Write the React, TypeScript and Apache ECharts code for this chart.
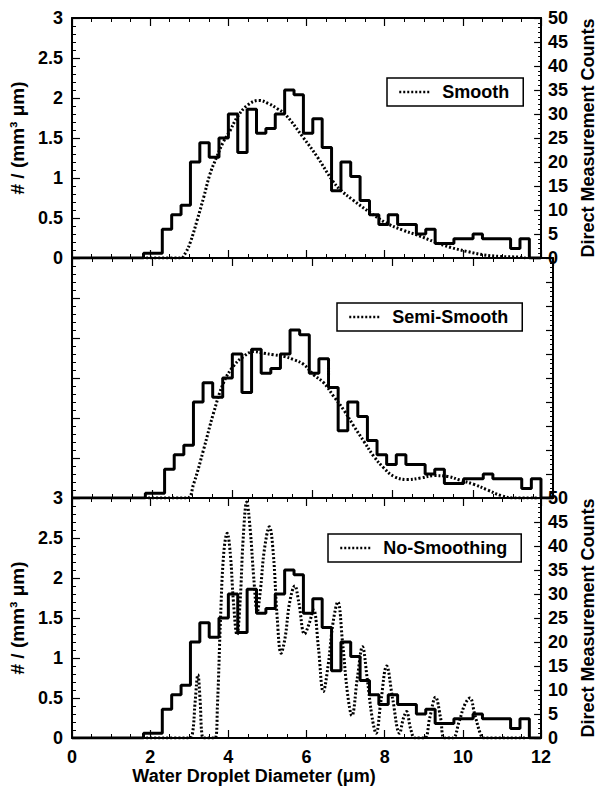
import React, { useEffect, useRef } from 'react';
import * as echarts from 'echarts';

// Histogram bin edges (µm) and direct measurement counts per bin
const binEdges = [
  1.83, 2.07, 2.31, 2.55, 2.79, 3.03, 3.27, 3.51, 3.76, 4.0, 4.24, 4.48, 4.72, 4.96,
  5.2, 5.44, 5.68, 5.92, 6.16, 6.4, 6.64, 6.88, 7.13, 7.37, 7.61, 7.85, 8.09, 8.33,
  8.57, 8.81, 9.05, 9.29, 9.53, 9.77, 10.01, 10.26, 10.5, 10.74, 10.98, 11.22, 11.46, 11.7,
];
const histCounts = [
  1, 1, 6, 9, 11, 20, 24, 21, 25, 30, 22, 31, 26, 27, 30, 35, 34, 26, 29, 23, 14, 20, 17,
  12, 9, 7, 9, 7, 7, 5, 6, 3, 3, 4, 4, 5, 4, 4, 4, 2, 4,
];

// "Smooth" inversion
const smoothX = [
  1.9, 2.78, 2.91, 3.03, 3.2, 3.37, 3.53, 3.7, 3.87, 4.03, 4.24, 4.49, 4.78, 5.03, 5.24,
  5.45, 5.91, 6.28, 6.66, 6.87, 7.2, 7.62, 8.03, 8.45, 8.87, 9.28, 9.7, 10.12, 10.53,
  10.95, 11.45, 11.6,
];
const smoothY = [
  0, 0, 0.07, 0.2, 0.47, 0.76, 1.05, 1.26, 1.45, 1.58, 1.77, 1.91, 1.97, 1.93, 1.87,
  1.8, 1.51, 1.26, 0.97, 0.85, 0.72, 0.57, 0.44, 0.35, 0.28, 0.2, 0.13, 0.08, 0.04,
  0.02, 0.01, 0,
];

// "Semi-Smooth" inversion
const semiX = [
  1.9, 2.87, 3.03, 3.28, 3.53, 3.78, 4.03, 4.28, 4.53, 4.78, 5.03, 5.28, 5.53, 5.78,
  6.03, 6.28, 6.53, 6.78, 7.03, 7.28, 7.53, 7.78, 8.03, 8.37, 8.7, 9.03, 9.37, 9.7,
  10.03, 10.37, 10.7, 11.03, 11.6,
];
const semiY = [
  0, 0, 0.17, 0.6, 1.06, 1.44, 1.65, 1.77, 1.83, 1.81, 1.79, 1.77, 1.73, 1.67, 1.54,
  1.44, 1.27, 1.1, 0.9, 0.71, 0.52, 0.375, 0.27, 0.23, 0.25, 0.28, 0.27, 0.22, 0.17,
  0.1, 0.03, 0, 0,
];

// "No-Smoothing" inversion
const noSmoothX = [
  1.9, 3.0, 3.08, 3.15, 3.22, 3.28, 3.33, 3.4, 3.66, 3.72,
  3.8, 3.88, 3.97, 4.05, 4.13, 4.22, 4.3, 4.38, 4.47, 4.56,
  4.65, 4.74, 4.82, 4.92, 5.05, 5.15, 5.25, 5.35, 5.45, 5.57,
  5.7, 5.8, 5.95, 6.06, 6.18, 6.3, 6.43, 6.55, 6.68, 6.8,
  6.92, 7.05, 7.16, 7.3, 7.43, 7.55, 7.68, 7.78, 7.9, 8.05,
  8.2, 8.38, 8.48, 8.56, 8.66, 8.78, 9.02, 9.15, 9.3, 9.43,
  9.53, 9.74, 9.9, 10.05, 10.18, 10.3, 10.45, 10.53, 11.6,
];
const noSmoothY = [
  0, 0, 0.05, 0.45, 0.79, 0.45, 0.02, 0, 0, 0.4,
  1.5, 2.3, 2.56, 2.3, 1.7, 1.29, 1.7, 2.5, 2.95, 2.6,
  2.0, 1.58, 1.85, 2.35, 2.64, 2.3, 1.5, 1.06, 1.25, 1.7,
  1.9, 1.7, 1.3, 1.42, 1.6, 1.15, 0.58, 0.9, 1.45, 1.7,
  1.2, 0.55, 0.28, 0.75, 1.14, 0.75, 0.25, 0.06, 0.45, 0.9,
  0.5, 0.06, 0.25, 0.33, 0.12, 0, 0, 0.25, 0.51, 0.25,
  0, 0, 0.2, 0.42, 0.5, 0.3, 0.05, 0, 0,
];

const legendNames = ['Smooth', 'Semi-Smooth', 'No-Smoothing'];
const leftAxisName = '# / (mm³ μm)';
const rightAxisName = 'Direct Measurement Counts';
const xAxisName = 'Water Droplet Diameter (μm)';

const FONT = '"Liberation Sans", Arial, Helvetica, sans-serif';

function histPoints() {
  const pts: number[][] = [[0, 0]];
  for (let i = 0; i < histCounts.length; i++) pts.push([binEdges[i], histCounts[i]]);
  pts.push([binEdges[binEdges.length - 1], histCounts[histCounts.length - 1]]);
  pts.push([binEdges[binEdges.length - 1], 0]);
  pts.push([12, 0]);
  return pts;
}

function zip(xs: number[], ys: number[]) {
  return xs.map((x, i) => [x, ys[i]]);
}

export default function App() {
  const ref = useRef<HTMLDivElement>(null);
  useEffect(() => {
    if (!ref.current) return;
    const chart = echarts.init(ref.current, undefined, { renderer: 'svg' });
    const tops = [18, 258, 498];
    const labelStyle = { color: '#000', fontFamily: FONT, fontWeight: 'bold' as const, fontSize: 18 };
    const axisLine = { show: true, onZero: false, lineStyle: { color: '#000', width: 2 } };

    const xAxes: any[] = [];
    const yAxes: any[] = [];
    tops.forEach((_, g) => {
      const isBottom = g === 2;
      const base = {
        type: 'value', gridIndex: g, min: 0, max: 12, interval: 2,
        axisLine,
        axisTick: { show: true, inside: true, length: 8, lineStyle: { color: '#000', width: 1.2 } },
        minorTick: { show: true, splitNumber: 4, length: 4, lineStyle: { color: '#000', width: 1 } },
        splitLine: { show: false },
        minorSplitLine: { show: false },
      };
      xAxes.push({
        ...base,
        position: 'bottom',
        axisLabel: { show: isBottom, margin: 10, ...labelStyle },
        name: isBottom ? xAxisName : '',
        nameLocation: 'middle',
        nameGap: 29,
        nameTextStyle: { ...labelStyle, padding: [0, 105, 0, 0] },
      });
      xAxes.push({ ...base, position: 'top', axisLabel: { show: false } });
      const showLabels = g !== 1;
      yAxes.push({
        type: 'value', gridIndex: g, min: 0, max: 3, interval: 0.5, position: 'left',
        axisLine,
        axisTick: { show: true, inside: true, length: 8, lineStyle: { color: '#000', width: 1.2 } },
        minorTick: { show: true, splitNumber: 5, length: 4, lineStyle: { color: '#000', width: 1 } },
        splitLine: { show: false },
        axisLabel: { show: showLabels, margin: 9, ...labelStyle },
        name: showLabels ? leftAxisName : '',
        nameLocation: 'middle',
        nameRotate: 90,
        nameGap: 42,
        nameTextStyle: { ...labelStyle, fontSize: 19 },
      });
      yAxes.push({
        type: 'value', gridIndex: g, min: 0, max: 50, interval: 5, position: 'right',
        axisLine,
        axisTick: { show: true, inside: true, length: 7, lineStyle: { color: '#000', width: 1.2 } },
        minorTick: { show: true, splitNumber: 5, length: 3, lineStyle: { color: '#000', width: 1 } },
        splitLine: { show: false },
        axisLabel: { show: showLabels, margin: 7, ...labelStyle },
        name: showLabels ? rightAxisName : '',
        nameLocation: 'middle',
        nameRotate: 90,
        nameGap: 32,
        nameTextStyle: labelStyle,
      });
    });

    const dotted = { color: '#000', width: 3, type: [2, 2] };
    const hist = histPoints();
    const curves = [zip(smoothX, smoothY), zip(semiX, semiY), zip(noSmoothX, noSmoothY)];
    const series: any[] = [];
    tops.forEach((_, g) => {
      series.push({
        name: rightAxisName,
        type: 'line', step: 'end', xAxisIndex: 2 * g, yAxisIndex: 2 * g + 1,
        data: hist, symbol: 'none', lineStyle: { color: '#000', width: 3 },
      });
      series.push({
        name: legendNames[g],
        type: 'line', smooth: 0.4, xAxisIndex: 2 * g, yAxisIndex: 2 * g,
        data: curves[g], symbol: 'none', showSymbol: false,
        lineStyle: dotted, itemStyle: { color: '#000' },
      });
    });

    const legendPos = [
      { left: 387, top: 78 },
      { left: 337, top: 303 },
      { left: 328, top: 534 },
    ];
    const legends = legendNames.map((n, i) => ({
      data: [n],
      ...legendPos[i],
      orient: 'horizontal',
      selectedMode: false,
      backgroundColor: '#fff',
      borderColor: '#000',
      borderWidth: 1.5,
      borderRadius: 0,
      padding: [5, 14, 5, 11],
      itemWidth: 30,
      itemHeight: 14,
      itemStyle: { opacity: 0 },
      lineStyle: { color: '#000', width: 2.5, type: [2, 2], opacity: 1 },
      textStyle: { ...labelStyle, padding: [0, 0, 0, 8] },
    }));

    chart.setOption({
      animation: false,
      backgroundColor: '#fff',
      grid: tops.map((t) => ({ left: 72, top: t, width: 481, height: 240, containLabel: false })),
      xAxis: xAxes,
      yAxis: yAxes,
      legend: legends,
      series,
    });
    return () => chart.dispose();
  }, []);
  return (
    <div
      ref={ref}
      style={{ position: 'absolute', left: 0, top: 0, width: 605, height: 789, background: '#fff' }}
    />
  );
}
